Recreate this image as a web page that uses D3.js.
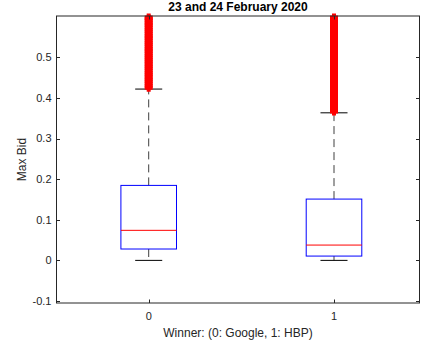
<!DOCTYPE html>
<html><head><meta charset="utf-8">
<script src="https://cdn.jsdelivr.net/npm/d3@7"></script>
<style>body{margin:0;background:#fff}svg{display:block}text{font-family:"Liberation Sans",Arial,sans-serif}</style>
</head><body><svg id="c" width="421" height="342"></svg>
<script>
const categories = ["0", "1"];
const q1 = [0.028, 0.0106];
const medians = [0.074, 0.0377];
const q3 = [0.1847, 0.151];
const whiskerLow = [0, 0];
const whiskerHigh = [0.422, 0.3635];
const outliers0 = [0.425,0.43,0.436,0.441,0.446,0.452,0.457,0.462,0.468,0.473,0.478,0.484,0.489,0.494,0.5,0.505,0.51,0.516,0.521,0.526,0.532,0.537,0.542,0.548,0.553,0.558,0.564,0.569,0.574,0.58,0.585,0.59,0.595,0.598];
const outliers1 = [0.367,0.372,0.377,0.383,0.388,0.393,0.399,0.404,0.409,0.415,0.42,0.425,0.431,0.436,0.441,0.447,0.452,0.457,0.463,0.468,0.473,0.479,0.484,0.489,0.495,0.5,0.505,0.511,0.516,0.521,0.527,0.532,0.537,0.543,0.548,0.553,0.559,0.564,0.569,0.575,0.58,0.585,0.59,0.595,0.598];
const outliers = [outliers0, outliers1];
const yTicks = [-0.1, 0, 0.1, 0.2, 0.3, 0.4, 0.5];
const yTickLabels = ["-0.1", "0", "0.1", "0.2", "0.3", "0.4", "0.5"];
const title = "23 and 24 February 2020";
const xLabel = "Winner: (0: Google, 1: HBP)";
const yLabel = "Max Bid";

const L = 56.5, R = 419.5, T = 16, B = 303;
const svg = d3.select("#c");
const x = d3.scaleLinear().domain([0, 1]).range([148.7, 334]);
const y = d3.scaleLinear().domain([-0.105, 0.602]).range([B, T]);
const axisColor = "#262626";
const bw = 0.15, cw = 0.073;

categories.forEach((c, i) => {
  const cx = x(i);
  const hw = x(bw) - x(0), chw = x(cw) - x(0);
  const g = svg.append("g");
  g.append("line").attr("x1", cx).attr("x2", cx).attr("y1", y(q3[i])).attr("y2", y(whiskerHigh[i]))
    .attr("stroke", "#000").attr("stroke-width", 1).attr("stroke-dasharray", "8,5").attr("opacity", 0.75);
  g.append("line").attr("x1", cx).attr("x2", cx).attr("y1", y(q1[i])).attr("y2", y(whiskerLow[i]))
    .attr("stroke", "#000").attr("stroke-width", 1).attr("stroke-dasharray", "8,5").attr("opacity", 0.75);
  [whiskerHigh[i], whiskerLow[i]].forEach(v => {
    g.append("line").attr("x1", cx - chw).attr("x2", cx + chw).attr("y1", y(v)).attr("y2", y(v))
      .attr("stroke", "#000").attr("stroke-width", 1);
  });
  g.append("rect").attr("x", cx - hw).attr("y", y(q3[i])).attr("width", 2 * hw).attr("height", y(q1[i]) - y(q3[i]))
    .attr("fill", "none").attr("stroke", "#0000ff").attr("stroke-width", 1);
  g.append("line").attr("x1", cx - hw).attr("x2", cx + hw).attr("y1", y(medians[i])).attr("y2", y(medians[i]))
    .attr("stroke", "#ff0000").attr("stroke-width", 1);
  const m = 4;
  g.selectAll("path.o").data(outliers[i]).join("path").attr("class", "o")
    .attr("d", v => `M${cx - m},${y(v)}H${cx + m}M${cx},${y(v) - m}V${y(v) + m}`)
    .attr("stroke", "#ff0000").attr("stroke-width", 4).attr("stroke-linecap", "butt").attr("fill", "none");
});

svg.append("rect").attr("x", L).attr("y", T).attr("width", R - L).attr("height", B - T)
  .attr("fill", "none").attr("stroke", axisColor).attr("stroke-width", 1);

yTicks.forEach((v, k) => {
  const yy = Math.round(y(v)) + 0.5;
  svg.append("line").attr("x1", L).attr("x2", L + 3.5).attr("y1", yy).attr("y2", yy).attr("stroke", axisColor);
  svg.append("line").attr("x1", R - 3.5).attr("x2", R).attr("y1", yy).attr("y2", yy).attr("stroke", axisColor);
  svg.append("text").attr("x", L - 5).attr("y", y(v)).attr("dy", "0.35em").attr("text-anchor", "end")
    .attr("font-size", 11).attr("fill", axisColor).text(yTickLabels[k]);
});
categories.forEach((c, i) => {
  const xx = Math.round(x(i)) + 0.5;
  svg.append("line").attr("x1", xx).attr("x2", xx).attr("y1", B).attr("y2", B - 3.5).attr("stroke", axisColor);
  svg.append("line").attr("x1", xx).attr("x2", xx).attr("y1", T).attr("y2", T + 3.5).attr("stroke", axisColor);
  svg.append("text").attr("x", x(i)).attr("y", 320).attr("text-anchor", "middle")
    .attr("font-size", 11).attr("fill", axisColor).text(c);
});

svg.append("text").attr("x", (L + R) / 2).attr("y", 11).attr("text-anchor", "middle")
  .attr("font-size", 12).attr("font-weight", "bold").attr("fill", "#000").text(title);
svg.append("text").attr("x", (L + R) / 2).attr("y", 337).attr("text-anchor", "middle")
  .attr("font-size", 12).attr("fill", axisColor).text(xLabel);
svg.append("text").attr("transform", `translate(26,${(T + B) / 2}) rotate(-90)`).attr("text-anchor", "middle")
  .attr("font-size", 12).attr("fill", axisColor).text(yLabel);
</script></body></html>
